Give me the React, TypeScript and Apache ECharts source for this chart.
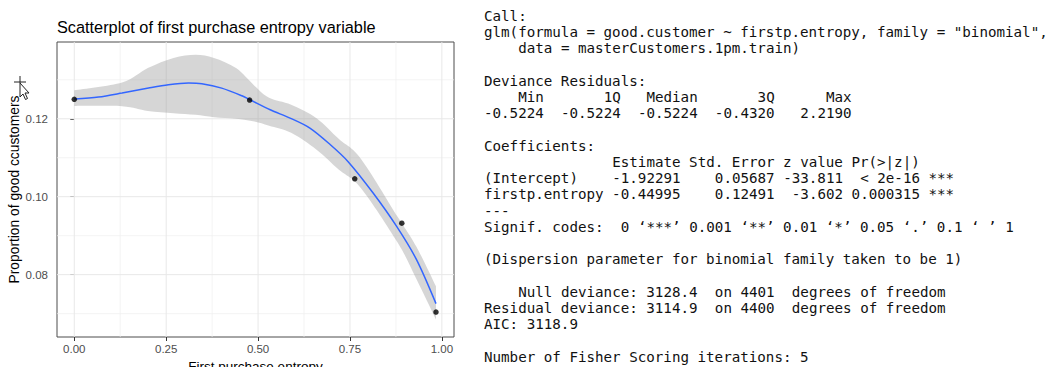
import React, { useEffect, useRef } from "react";
import * as echarts from "echarts";

// ---------- chart texts ----------
const chartTitle = "Scatterplot of first purchase entropy variable";
const xAxisTitle = "First purchase entropy";
const yAxisTitle = "Proportion of good ccustomers";

// ---------- axis ticks / gridlines ----------
const xTicks = [0, 0.25, 0.5, 0.75, 1.0];
const xMinorTicks = [0.125, 0.375, 0.625, 0.875];
const yTicks = [0.08, 0.1, 0.12];
const yMinorTicks = [0.07, 0.09, 0.11, 0.13];

// ---------- observed points ----------
const pointX = [0, 0.477, 0.763, 0.891, 0.984];
const pointY = [0.125, 0.1248, 0.1046, 0.0932, 0.0704];

// ---------- loess smooth ----------
const smoothX = [0, 0.066, 0.13, 0.202, 0.256, 0.311, 0.347, 0.401, 0.456, 0.478, 0.533, 0.587, 0.641, 0.696, 0.745, 0.813, 0.877, 0.931, 0.984];
const smoothY = [0.12505, 0.12556, 0.12659, 0.12787, 0.12872, 0.12915, 0.12897, 0.12787, 0.1259, 0.12487, 0.12231, 0.12018, 0.11762, 0.1134, 0.109, 0.10095, 0.09238, 0.08385, 0.07256];

// ---------- confidence band ----------
const bandX = [0, 0.13, 0.2, 0.27, 0.33, 0.38, 0.44, 0.49, 0.53, 0.59, 0.66, 0.72, 0.78, 0.88, 0.93, 0.984];
const bandUpper = [0.1273, 0.1293, 0.133, 0.1356, 0.1364, 0.1356, 0.133, 0.1285, 0.1254, 0.1236, 0.1201, 0.1148, 0.1097, 0.0948, 0.0873, 0.077];
const bandLower = [0.1233, 0.1232, 0.122, 0.1214, 0.121, 0.1204, 0.12, 0.1193, 0.1182, 0.1164, 0.112, 0.1069, 0.1022, 0.0882, 0.079, 0.0685];

// ---------- R console output (verbatim text lines) ----------
const consoleLines = [
  "Call:",
  'glm(formula = good.customer ~ firstp.entropy, family = "binomial", ',
  "    data = masterCustomers.1pm.train)",
  "",
  "Deviance Residuals: ",
  "    Min       1Q   Median       3Q      Max  ",
  "-0.5224  -0.5224  -0.5224  -0.4320   2.2190  ",
  "",
  "Coefficients:",
  "               Estimate Std. Error z value Pr(>|z|)    ",
  "(Intercept)    -1.92291    0.05687 -33.811  < 2e-16 ***",
  "firstp.entropy -0.44995    0.12491  -3.602 0.000315 ***",
  "---",
  "Signif. codes:  0 \u2018***\u2019 0.001 \u2018**\u2019 0.01 \u2018*\u2019 0.05 \u2018.\u2019 0.1 \u2018 \u2019 1",
  "",
  "(Dispersion parameter for binomial family taken to be 1)",
  "",
  "    Null deviance: 3128.4  on 4401  degrees of freedom",
  "Residual deviance: 3114.9  on 4400  degrees of freedom",
  "AIC: 3118.9",
  "",
  "Number of Fisher Scoring iterations: 5",
];

// console layout
const CONSOLE_X0 = 484;
const CONSOLE_Y0 = 15.7;
const CONSOLE_LINE_H = 16.25;
const CONSOLE_CHAR_W = 8.55;
const CONSOLE_FONT_SIZE = 14.2;

const SANS = "'Liberation Sans', Arial, Helvetica, sans-serif";
const MONO = "'DejaVu Sans Mono', 'Liberation Mono', monospace";

function gridSeries(values: number[], vertical: boolean, color: string, width: number) {
  return {
    type: "custom",
    silent: true,
    z: 1,
    data: values.map((v) => (vertical ? [v, 0.1] : [0.5, v])),
    renderItem: (params: any, api: any) => {
      const cs = params.coordSys;
      const p = api.coord([api.value(0), api.value(1)]);
      if (vertical) {
        return {
          type: "line",
          shape: { x1: p[0], y1: cs.y, x2: p[0], y2: cs.y + cs.height },
          style: { stroke: color, lineWidth: width },
        };
      }
      return {
        type: "line",
        shape: { x1: cs.x, y1: p[1], x2: cs.x + cs.width, y2: p[1] },
        style: { stroke: color, lineWidth: width },
      };
    },
  };
}

// Catmull-Rom curve through pixel points, as SVG path commands
function curveThrough(pts: number[][], start: "M" | "L") {
  let d = `${start}${pts[0][0]},${pts[0][1]}`;
  for (let i = 0; i < pts.length - 1; i++) {
    const p0 = pts[Math.max(0, i - 1)];
    const p1 = pts[i];
    const p2 = pts[i + 1];
    const p3 = pts[Math.min(pts.length - 1, i + 2)];
    const c1x = p1[0] + (p2[0] - p0[0]) / 6;
    const c1y = p1[1] + (p2[1] - p0[1]) / 6;
    const c2x = p2[0] - (p3[0] - p1[0]) / 6;
    const c2y = p2[1] - (p3[1] - p1[1]) / 6;
    d += ` C${c1x},${c1y} ${c2x},${c2y} ${p2[0]},${p2[1]}`;
  }
  return d;
}

export default function App() {
  const ref = useRef<HTMLDivElement>(null);

  useEffect(() => {
    document.body.style.margin = "0";
    if (!ref.current) return;
    const chart = echarts.init(ref.current, undefined, { renderer: "svg" });

    // console text: split each line into chunks at runs of 2+ spaces, place each at its column
    const consoleGraphics: any[] = [];
    consoleLines.forEach((line, li) => {
      const re = /\S+(?: \S+)*/g;
      let m: RegExpExecArray | null;
      while ((m = re.exec(line)) !== null) {
        consoleGraphics.push({
          type: "text",
          x: CONSOLE_X0 + m.index * CONSOLE_CHAR_W,
          y: CONSOLE_Y0 + li * CONSOLE_LINE_H,
          silent: true,
          style: {
            text: m[0],
            fontFamily: MONO,
            fontSize: CONSOLE_FONT_SIZE,
            fill: "#111",
            align: "left",
            verticalAlign: "middle",
          },
        });
      }
    });

    const option: any = {
      animation: false,
      backgroundColor: "#ffffff",
      title: {
        text: chartTitle,
        left: 57,
        top: 19,
        padding: 0,
        textStyle: { fontFamily: SANS, fontSize: 16.3, fontWeight: "normal", color: "#000" },
      },
      grid: {
        left: 57,
        right: 607,
        top: 42,
        bottom: 30,
        show: true,
        borderColor: "#4d4d4d",
        borderWidth: 1,
        backgroundColor: "#fff",
        containLabel: false,
        outerBoundsMode: "none",
      },
      xAxis: {
        type: "value",
        min: -0.047,
        max: 1.033,
        name: xAxisTitle,
        nameLocation: "middle",
        nameGap: 20,
        nameTextStyle: { fontFamily: SANS, fontSize: 13.5, color: "#000" },
        axisLine: { show: false },
        splitLine: { show: false },
        axisTick: { show: true, customValues: xTicks, length: 4, lineStyle: { color: "#333" } },
        axisLabel: {
          customValues: xTicks,
          formatter: (v: number) => v.toFixed(2),
          margin: 6,
          color: "#4d4d4d",
          fontSize: 11.5,
          fontFamily: SANS,
        },
      },
      yAxis: {
        type: "value",
        min: 0.064,
        max: 0.1397,
        name: yAxisTitle,
        nameLocation: "middle",
        nameGap: 26,
        nameTextStyle: { fontFamily: SANS, fontSize: 13.8, color: "#000" },
        axisLine: { show: false },
        splitLine: { show: false },
        axisTick: { show: true, customValues: yTicks, length: 4, lineStyle: { color: "#333" } },
        axisLabel: {
          customValues: yTicks,
          formatter: (v: number) => v.toFixed(2),
          margin: 9,
          color: "#4d4d4d",
          fontSize: 11.5,
          fontFamily: SANS,
        },
      },
      series: [
        gridSeries(xMinorTicks, true, "#efefef", 0.7),
        gridSeries(yMinorTicks, false, "#efefef", 0.7),
        gridSeries(xTicks, true, "#e8e8e8", 1),
        gridSeries(yTicks, false, "#e8e8e8", 1),
        {
          type: "custom",
          silent: true,
          z: 2,
          data: [[0.5, 0.1]],
          renderItem: (_params: any, api: any) => {
            const up = bandX.map((x, i) => api.coord([x, bandUpper[i]]));
            const lo = bandX.map((x, i) => api.coord([x, bandLower[i]])).reverse();
            const d = curveThrough(up, "M") + " " + curveThrough(lo, "L") + " Z";
            return {
              type: "path",
              shape: { pathData: d },
              style: { fill: "rgba(153,153,153,0.4)", stroke: "none" },
            };
          },
        },
        {
          type: "line",
          z: 3,
          symbol: "none",
          smooth: 0.3,
          lineStyle: { color: "#3366FF", width: 1.5 },
          data: smoothX.map((x, i) => [x, smoothY[i]]),
        },
        {
          type: "scatter",
          z: 4,
          symbolSize: 5.5,
          itemStyle: { color: "#000" },
          data: pointX.map((x, i) => [x, pointY[i]]),
        },
      ],
      graphic: [
        ...consoleGraphics,
        {
          type: "polygon",
          silent: true,
          shape: { points: [[20, 83], [20, 97], [23, 94], [25.5, 99.5], [27.5, 98.5], [25, 93], [29, 93]] },
          style: { fill: "#fff", stroke: "#222", lineWidth: 1 },
        },
        {
          type: "line",
          silent: true,
          shape: { x1: 14, y1: 82, x2: 26, y2: 82 },
          style: { stroke: "#222", lineWidth: 1 },
        },
        {
          type: "line",
          silent: true,
          shape: { x1: 20, y1: 76, x2: 20, y2: 83 },
          style: { stroke: "#222", lineWidth: 1 },
        },
      ],
    };

    chart.setOption(option);
    return () => chart.dispose();
  }, []);

  return <div ref={ref} style={{ width: 1061, height: 367 }} />;
}
